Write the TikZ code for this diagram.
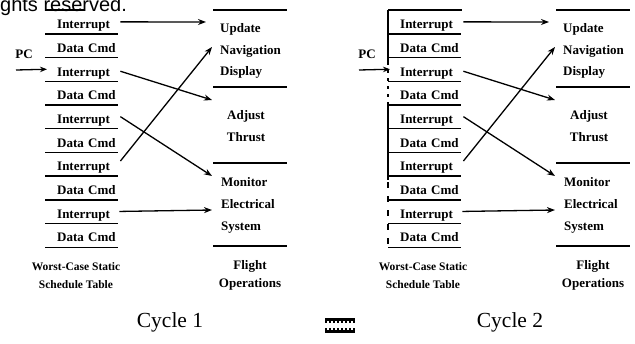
\documentclass[tikz,border=0pt]{standalone}
\usepackage{fontspec}
\setmainfont{Liberation Serif}
\newfontfamily\notefont{Liberation Sans}
\usetikzlibrary{arrows.meta}

\tikzset{
  rule/.style={line width=1.4pt},
  link/.style={line width=1.3pt,-{Stealth[length=8pt,width=6pt]}},
  cell/.style={anchor=west,inner xsep=4pt,inner ysep=0pt,text width=65pt,
    minimum height=23.7pt,text height=13.5pt,text depth=0pt,align=left,
    font=\bfseries\fontsize{13}{16}\selectfont},
  task/.style={inner sep=0pt,font=\bfseries\fontsize{13}{21.5}\selectfont},
  caption/.style={inner sep=0pt,align=center},
  cyc/.style={inner sep=0pt,font=\fontsize{21.5}{24}\selectfont},
  note/.style={anchor=base west,inner sep=0pt,font=\notefont\fontsize{20}{24}\selectfont}
}

% One schedule panel: table of slots, flight operations column and links.
% #1 name prefix, #2 right end of the table's top rule, #3 centre of the table caption
\newcommand\schedpanel[3]{%
  \draw[rule] (45,10) -- (#2,10);
  \foreach \i/\t in {1/Interrupt,2/Data Cmd,3/Interrupt,4/Data Cmd,5/Interrupt,
                     6/Data Cmd,7/Interrupt,8/Data Cmd,9/Interrupt,10/Data Cmd}{
    \node[cell] (#1r\i) at (49,{10+23.7*\i-11.85}) {\hspace*{4pt}\t};
    \draw[rule] ([xshift=-4pt]#1r\i.south west) -- ([xshift=-4pt]#1r\i.south east);
  }
  % flight operations column
  \draw[rule] (213,10) -- (287,10);
  \draw[rule] (213,87) -- (287,87);
  \draw[rule] (213,163) -- (287,163);
  \draw[rule] (213,246) -- (287,246);
  \node[task,anchor=west,align=left] (#1nav) at (220,51) {Update\\Navigation\\Display};
  \node[task,align=center] (#1thr) at (246,126) {Adjust\\Thrust};
  \node[task,anchor=west,align=left,font=\bfseries\fontsize{13}{22}\selectfont]
    (#1mon) at (221,205) {Monitor\\Electrical\\System};
  % entry points of the links
  \coordinate (#1inUpd) at (206,22);
  \coordinate (#1inNav) at (212,47);
  \coordinate (#1inThr) at (212,100);
  \coordinate (#1inMon) at (212,176);
  \coordinate (#1inEle) at (212,210);
  \draw[link] ([xshift=-2pt]#1r1.east) -- (#1inUpd);
  \draw[link] ([xshift=-2pt,yshift=-2pt]#1r3.east) -- (#1inThr);
  \draw[link] ([xshift=-2pt]#1r5.east) -- (#1inMon);
  \draw[link] ([xshift=-2pt,yshift=3pt]#1r7.east) -- (#1inNav);
  \draw[link] ([xshift=-3pt]#1r9.east) -- (#1inEle);
  % program counter
  \node[inner sep=0pt,font=\bfseries\fontsize{13}{16}\selectfont] (#1pc) at (24,54) {PC};
  \coordinate (#1pcTail) at (16,70);
  \draw[line width=1.3pt,-{Stealth[length=7pt,width=5.5pt]}] (#1pcTail) -- ([xshift=-2pt]#1r3.west);
  % captions
  \node[caption,font=\bfseries\fontsize{11.5}{18}\selectfont] (#1cap) at (#3,276)
    {Worst-Case Static\\Schedule Table};
  \node[caption,font=\bfseries\fontsize{13}{18}\selectfont] (#1ops) at (250,275)
    {Flight\\Operations};
}

\begin{document}
\begin{tikzpicture}[x=1pt,y=-1pt]
\useasboundingbox (0,0) rectangle (635,343);
\fill[white] (0,0) rectangle (635,343);

\node[note] (rights) at (0,11) {ghts reserved.};

\schedpanel{a}{85}{76}

\begin{scope}[xshift=343pt]
  \schedpanel{b}{119}{80}
  % left edge of the second table
  \draw[rule] (45,10) -- (45,62);
  \draw[rule,dash pattern=on 3pt off 5pt] (45,62) -- (45,104);
  \draw[rule] (45,104) -- (45,180);
  \draw[rule,dash pattern=on 6pt off 8pt] (45,182) -- (45,247);
\end{scope}

\node[cyc] (cyc1) at (170,322) {Cycle 1};
\node[cyc] (cyc2) at (510,322) {Cycle 2};

% separator mark between the cycles: two heavy bars with ragged edges
\draw[line width=3pt] (325,319.5) -- (355,319.5);
\draw[line width=1.6pt,dash pattern=on 2pt off 2pt] (325,322) -- (355,322);
\draw[line width=1.6pt,dash pattern=on 2pt off 2pt] (325,329) -- (355,329);
\draw[line width=3pt] (325,331.5) -- (355,331.5);
\end{tikzpicture}
\end{document}
